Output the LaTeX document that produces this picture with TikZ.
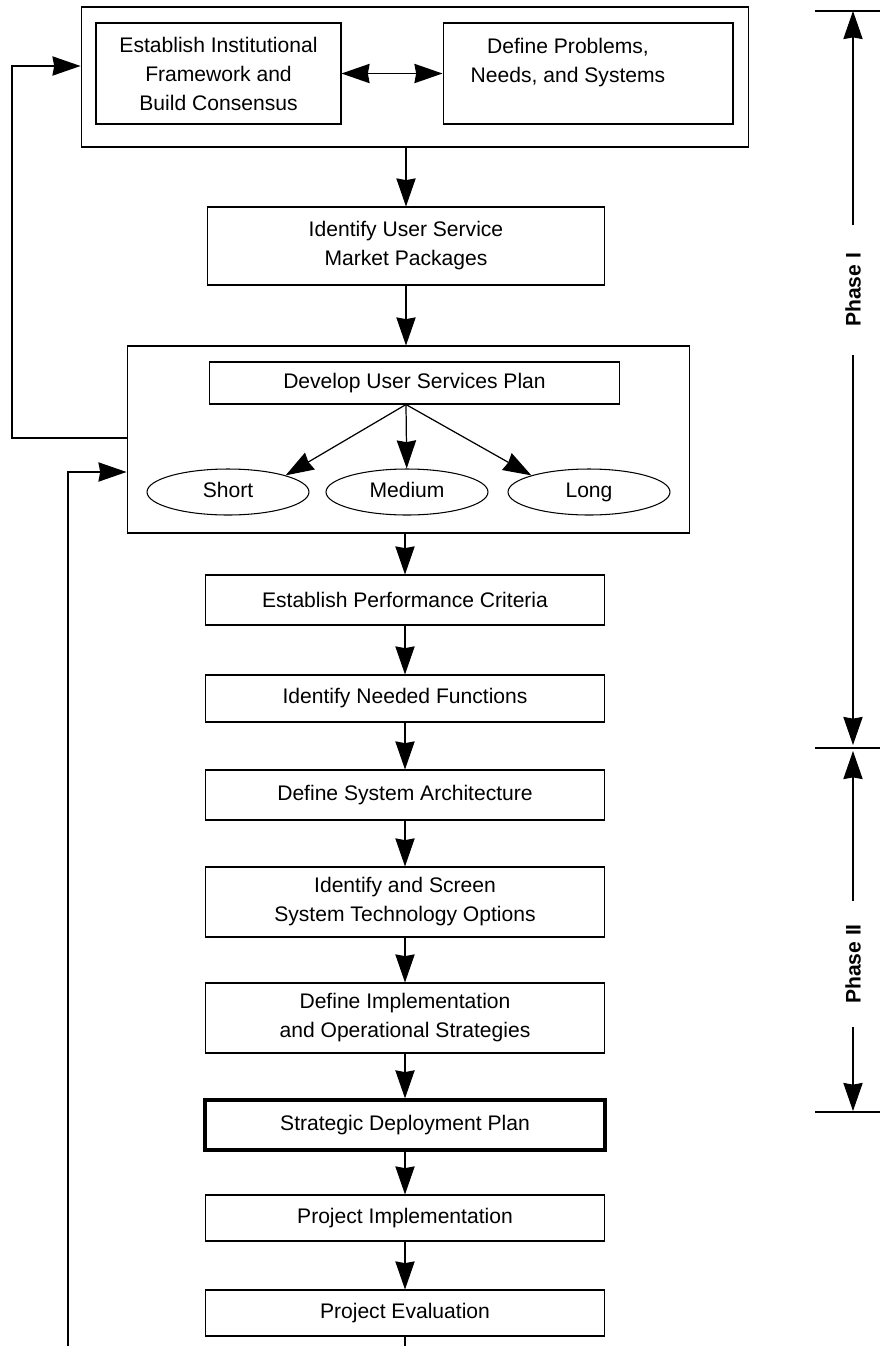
\documentclass[tikz,border=0pt]{standalone}
\usepackage{fontspec}
\setmainfont{Liberation Sans}
\usetikzlibrary{arrows.meta,shapes.geometric}

\tikzset{
    box/.style={draw, line width=.6pt, inner sep=0pt, align=center,
        font=\fontsize{12}{16.5}\selectfont},
    outerbox/.style={draw, line width=.6pt, inner sep=0pt},
    period/.style={draw, ellipse, line width=.6pt, inner sep=0pt, text height=1.6ex, text depth=.45ex,
        minimum width=3.24cm, minimum height=.92cm, font=\fontsize{12}{16}\selectfont},
    txt/.style={align=center, inner sep=0pt, font=\fontsize{12}{16.5}\selectfont},
    phase/.style={rotate=90, font=\bfseries\fontsize{12}{14}\selectfont},
    flow/.style={-{Stealth[length=16pt,width=11pt,inset=1pt]}, line width=.7pt},
    twoway/.style={{Stealth[length=16pt,width=11pt,inset=1pt]}-{Stealth[length=16pt,width=11pt,inset=1pt]}, line width=.7pt}
}

\begin{document}
\begin{tikzpicture}[x=.02cm, y=-.02cm]
    \useasboundingbox (0, 0) rectangle (880, 1346);

    % top group
    \node[outerbox, minimum width=13.36cm, minimum height=2.8cm] (top) at (415, 77) {};
    \node[box, minimum width=4.9cm, minimum height=2.02cm] (inst) at (218.5, 73.5)
        {Establish Institutional\\Framework and\\Build Consensus};
    \node[box, minimum width=5.8cm, minimum height=2.02cm] (prob) at (588, 73.5) {};
    \node[txt] (probtxt) at (568, 63) {Define Problems,\\Needs, and Systems};
    \draw[twoway] (inst.east) -- (prob.west);

    \node[box, minimum width=7.96cm, minimum height=1.56cm] (usm) at (406, 246)
        {Identify User Service\\Market Packages};

    % user services plan group
    \node[outerbox, minimum width=11.26cm, minimum height=3.74cm] (dev) at (408.5, 439.5) {};
    \node[box, minimum width=8.22cm, minimum height=.84cm] (plan) at (414.5, 383) {Develop User Services Plan};
    \node[period] (short) at (228, 492) {Short};
    \node[period] (med) at (407, 492) {Medium};
    \node[period] (long) at (589, 492) {Long};
    \coordinate (fork) at (plan.south -| usm);
    \draw[flow] (fork) -- (short.north east);
    \draw[flow] (fork) -- (med);
    \draw[flow] (fork) -- (long.north west);

    % main chain
    \node[box, minimum width=8cm, minimum height=1cm] (perf) at (405, 600) {Establish Performance Criteria};
    \node[box, minimum width=8cm, minimum height=.94cm] (func) at (405, 698.5) {Identify Needed Functions};
    \node[box, minimum width=8cm, minimum height=1cm] (arch) at (405, 795) {Define System Architecture};
    \node[box, minimum width=8cm, minimum height=1.4cm] (screen) at (405, 902)
        {Identify and Screen\\System Technology Options};
    \node[box, minimum width=8cm, minimum height=1.4cm] (strat) at (405, 1018)
        {Define Implementation\\and Operational Strategies};
    \node[box, line width=1.8pt, minimum width=8cm, minimum height=1cm] (sdp) at (405, 1125)
        {Strategic Deployment Plan};
    \node[box, minimum width=8cm, minimum height=.92cm] (impl) at (405, 1218) {Project Implementation};
    \node[box, minimum width=8cm, minimum height=.92cm] (eval) at (405, 1313) {Project Evaluation};

    \draw[flow] (top.south -| usm) -- (usm);
    \draw[flow] (usm) -- (usm |- dev.north);
    \draw[flow] (dev.south -| perf) -- (perf);
    \foreach \a/\b in {perf/func, func/arch, arch/screen, screen/strat, strat/sdp, sdp/impl, impl/eval}
        \draw[flow] (\a) -- (\b);
    \coordinate (tail) at (405, 1346);
    \draw[line width=.7pt] (eval.south) -- (tail);

    % feedback loops
    \coordinate (loopA) at (12, 66);
    \coordinate (loopB) at (12, 438);
    \draw[flow] (dev.west |- loopB) -- (loopB) -- (loopA) -- (loopA -| top.west);
    \coordinate (loopC) at (68, 1346);
    \coordinate (loopD) at (68, 472);
    \draw[flow] (loopC) -- (loopD) -- (loopD -| dev.west);

    % phases
    \draw[line width=1.1pt] (815, 11) -- (880, 11);
    \draw[line width=.6pt] (815, 748) -- (880, 748);
    \draw[line width=.6pt] (815, 1112) -- (880, 1112);
    \coordinate (p1top) at (853, 11);
    \coordinate (p1bot) at (853, 745);
    \coordinate (p2top) at (853, 751);
    \coordinate (p2bot) at (853, 1111);
    \node[phase, inner sep=.55cm] (ph1) at (853, 290) {Phase I};
    \node[phase, inner sep=.46cm] (ph2) at (853, 964) {Phase II};
    \draw[flow, line width=.6pt] (ph1.east) -- (p1top);
    \draw[flow, line width=.6pt] (ph1.west) -- (p1bot);
    \draw[flow, line width=.6pt] (ph2.east) -- (p2top);
    \draw[flow, line width=.6pt] (ph2.west) -- (p2bot);
\end{tikzpicture}
\end{document}
